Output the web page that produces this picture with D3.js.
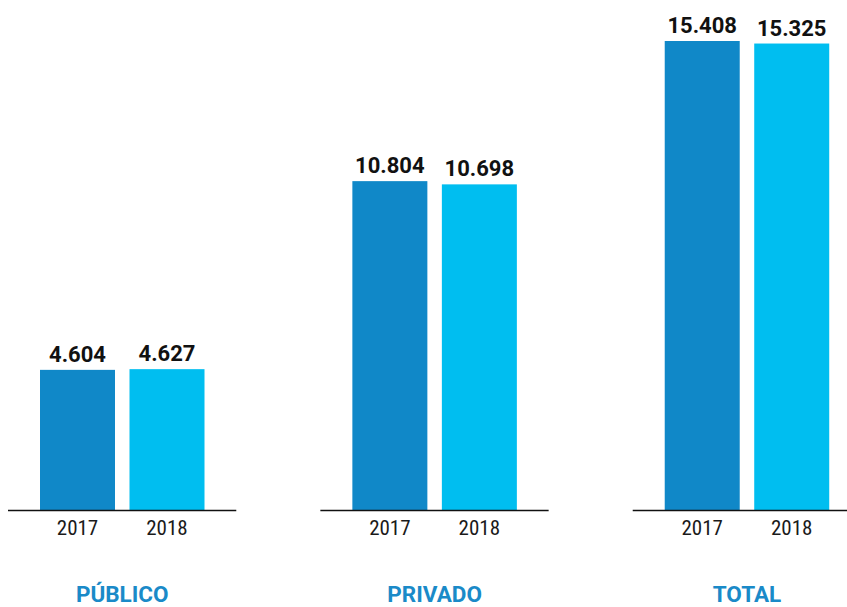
<!DOCTYPE html>
<html><head><meta charset="utf-8">
<script src="https://cdn.jsdelivr.net/npm/d3@7"></script>
<style>
html,body{margin:0;padding:0;background:#fff;}
svg{display:block;}
</style></head>
<body>
<svg id="c" width="847" height="607"></svg>
<script>
const categories = ["PÚBLICO", "PRIVADO", "TOTAL"];
const years = ["2017", "2018"];
const values2017 = [4604, 10804, 15408];
const values2018 = [4627, 10698, 15325];
const valueLabels2017 = ["4.604", "10.804", "15.408"];
const valueLabels2018 = ["4.627", "10.698", "15.325"];
const colors = ["#1088C8", "#00BEF0"];

const svg = d3.select("#c");
const baseY = 510;
const y = d3.scaleLinear().domain([0, 15408]).range([baseY, 41]);
const x0 = d3.scaleBand().domain(categories).range([8, 861]).paddingInner(0.2692).paddingOuter(0);
const x1 = d3.scaleBand().domain(years).range([32, 196.5]).paddingInner(0.162).paddingOuter(0);

const data = categories.map((c, i) => ({
  cat: c,
  items: [
    {year: years[0], v: values2017[i], label: valueLabels2017[i], color: colors[0]},
    {year: years[1], v: values2018[i], label: valueLabels2018[i], color: colors[1]}
  ]
}));

const g = svg.selectAll("g.grp").data(data).join("g")
  .attr("class", "grp")
  .attr("transform", d => `translate(${x0(d.cat)},0)`);

g.selectAll("rect").data(d => d.items).join("rect")
  .attr("x", d => x1(d.year))
  .attr("width", x1.bandwidth())
  .attr("y", d => y(d.v))
  .attr("height", d => baseY - y(d.v))
  .attr("fill", d => d.color);

g.append("line")
  .attr("x1", 0).attr("x2", x0.bandwidth())
  .attr("y1", baseY + 0.5).attr("y2", baseY + 0.5)
  .attr("stroke", "#111").attr("stroke-width", 1.3);

g.selectAll("text.val").data(d => d.items).join("text")
  .attr("class", "val")
  .attr("x", d => x1(d.year) + x1.bandwidth() / 2)
  .attr("y", d => y(d.v) - 8)
  .attr("text-anchor", "middle")
  .attr("font-family", "Roboto, 'Liberation Sans', sans-serif")
  .attr("font-weight", "bold")
  .attr("font-size", 22)
  .attr("fill", "#111")
  .text(d => d.label);

g.selectAll("text.yr").data(d => d.items).join("text")
  .attr("class", "yr")
  .attr("x", d => x1(d.year) + x1.bandwidth() / 2)
  .attr("y", 535)
  .attr("text-anchor", "middle")
  .attr("font-family", "'Liberation Sans Narrow', 'Roboto Condensed', Roboto, sans-serif")
  .attr("font-size", 21)
  .attr("fill", "#1a1a1a")
  .text(d => d.year);

g.append("text")
  .attr("x", (x1(years[0]) + x1(years[1]) + x1.bandwidth()) / 2)
  .attr("y", 602)
  .attr("text-anchor", "middle")
  .attr("font-family", "Roboto, 'Liberation Sans', sans-serif")
  .attr("font-weight", "bold")
  .attr("font-size", 22.5)
  .attr("fill", "#1A8AC8")
  .text(d => d.cat);
</script>
</body></html>
